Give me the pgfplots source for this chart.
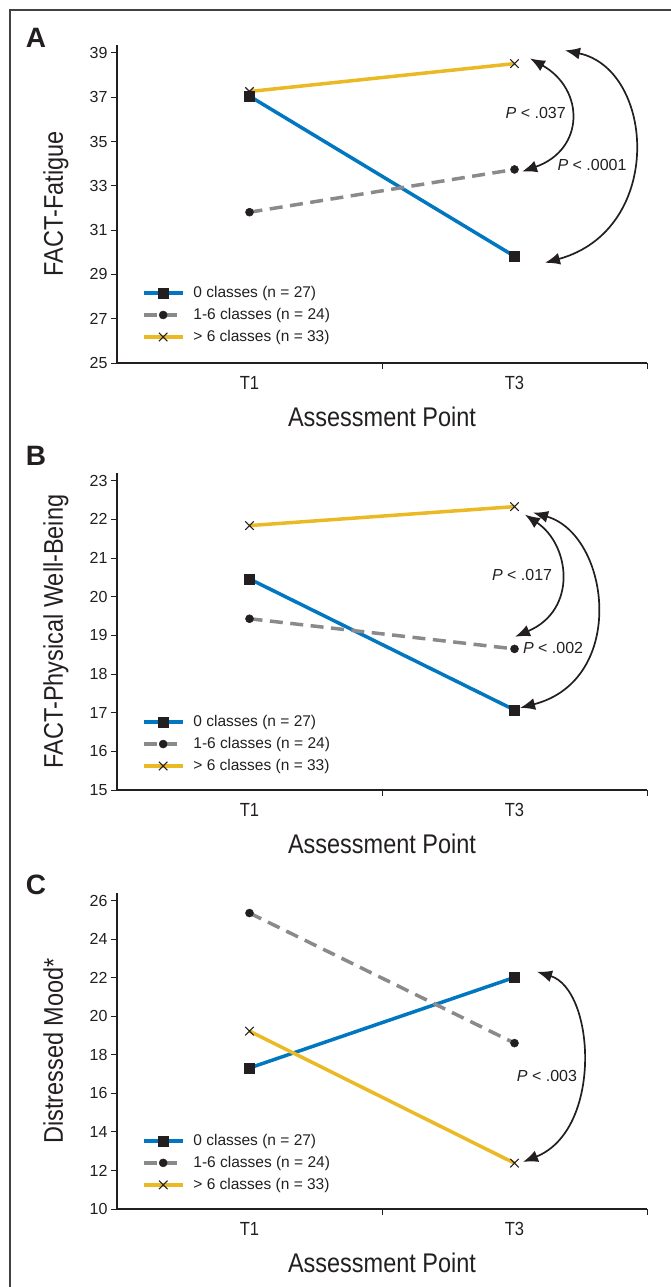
\documentclass[border=0pt]{standalone}
\usepackage{pgfplots}
\pgfplotsset{compat=1.18}
\usepackage{fontspec}
\setmainfont{Liberation Sans}
\newfontfamily\condfont[FakeStretch=0.87]{Liberation Sans}
\usetikzlibrary{arrows.meta}

\definecolor{cblue}{RGB}{0,119,192}
\definecolor{cgold}{RGB}{234,185,36}
\definecolor{cgray}{RGB}{138,138,140}
\definecolor{cdark}{RGB}{35,31,32}

\tikzset{
 parr/.style={cdark, line width=1.7pt, {Latex[length=15pt,width=12pt]}-{Latex[length=15pt,width=12pt]}},
 plab/.style={font=\fontsize{16}{18}\selectfont, text=cdark},
}

\pgfplotsset{
 panel/.style={
   scale only axis, width=530pt, xmin=0, xmax=4, clip=false,
   axis lines*=left,
   axis line style={line width=1.5pt, cdark},
   xtick={2,4}, xticklabels={},
   extra x ticks={1,3}, extra x tick labels={T1,T3},
   extra x tick style={major tick length=0pt,
     xticklabel style={font=\condfont\fontsize{19}{22}\selectfont, anchor=base, yshift=-26pt}},
   tick align=outside, major tick length=6pt,
   tick style={line width=1pt, cdark},
   every tick label/.append style={font=\fontsize{16}{18}\selectfont, text=cdark},
   /pgf/number format/assume math mode=true,
   xlabel={Assessment Point},
   xlabel style={at={(axis description cs:0.5,0)}, anchor=base, yshift=-63pt, font=\condfont\fontsize{27}{30}\selectfont, text=cdark},
   ylabel style={at={(axis description cs:-0.1019,0.5)}, anchor=base, font=\condfont\fontsize{27}{30}\selectfont, text=cdark},
   legend cell align=left,
   legend style={draw=none, fill=none, inner sep=0pt, outer sep=0pt, row sep=7pt, column sep=9pt,
     font=\fontsize{15.5}{18}\selectfont, text=cdark,
     nodes={inner sep=0pt, text height=12pt, text depth=3pt}, anchor=west},
   legend image code/.code={\draw[mark repeat=2,mark phase=2] plot coordinates {(0pt,0pt) (19.5pt,0pt) (39pt,0pt)};},
 },
 s0/.style={cblue, line width=3.5pt, mark=square*, mark options={solid, fill=cdark, draw=cdark, line width=0.5pt}, mark size=5pt},
 s1/.style={cgray, line width=3.5pt, dash pattern=on 13pt off 7.5pt, mark=*, mark options={solid, fill=cdark, draw=cdark, line width=0.5pt}, mark size=4pt},
 s2/.style={cgold, line width=3.5pt, mark=x, mark options={solid, draw=cdark, line width=1.1pt}, mark size=6pt},
}

\begin{document}
\begin{tikzpicture}
\path[use as bounding box] (0,0) rectangle (671pt,-1287pt);
\draw[line width=1.5pt, cdark!85] (10pt,-1290pt) -- (10pt,-10pt) -- (675pt,-10pt);

\node[font=\fontsize{28}{30}\selectfont\bfseries, text=cdark] at (36pt,-38pt) {A};
\node[font=\fontsize{28}{30}\selectfont\bfseries, text=cdark] at (36pt,-456pt) {B};
\node[font=\fontsize{28}{30}\selectfont\bfseries, text=cdark] at (36pt,-885pt) {C};

% Panel A
\begin{axis}[panel, at={(117pt,-363pt)}, anchor=south west, height=318pt,
  ymin=25, ymax=39.36, ytick={25,27,...,39}, ylabel={FACT-Fatigue},
  legend style={at={(axis description cs:0.047,0.151)}}]
\addplot[s0] coordinates {(1,37.05) (3,29.82)};
\addlegendentry{0 classes (n = 27)}
\addplot[s1] coordinates {(1,31.81) (3,33.74)};
\addlegendentry{1-6 classes (n = 24)}
\addplot[s2] coordinates {(1,37.26) (3,38.52)};
\addlegendentry{> 6 classes (n = 33)}
\draw[parr] (axis cs:3.117,38.756) .. controls (axis cs:3.532,37.353) and (axis cs:3.532,34.638) .. (axis cs:3.057,33.643);
\draw[parr] (axis cs:3.381,39.118) .. controls (axis cs:4.060,38.258) and (axis cs:4.136,31.018) .. (axis cs:3.230,29.525);
\node[plab] at (axis cs:3.16,36.31) {\textit{P} < .037};
\node[plab] at (axis cs:3.585,33.96) {\textit{P} < .0001};
\end{axis}

% Panel B
\begin{axis}[panel, at={(117pt,-790pt)}, anchor=south west, height=317pt,
  ymin=15, ymax=23.2, ytick={15,16,...,23}, ylabel={FACT-Physical Well-Being},
  legend style={at={(axis description cs:0.047,0.145)}}]
\addplot[s0] coordinates {(1,20.46) (3,17.07)};
\addlegendentry{0 classes (n = 27)}
\addplot[s1] coordinates {(1,19.43) (3,18.65)};
\addlegendentry{1-6 classes (n = 24)}
\addplot[s2] coordinates {(1,21.84) (3,22.33)};
\addlegendentry{> 6 classes (n = 33)}
\draw[parr] (axis cs:3.079,22.124) .. controls (axis cs:3.419,21.347) and (axis cs:3.479,19.663) .. (axis cs:3.004,18.964);
\draw[parr] (axis cs:3.140,22.176) .. controls (axis cs:3.721,21.606) and (axis cs:3.857,17.850) .. (axis cs:3.042,17.124);
\node[plab] at (axis cs:3.057,20.57) {\textit{P} < .017};
\node[plab] at (axis cs:3.291,18.679) {\textit{P} < .002};
\end{axis}

% Panel C
\begin{axis}[panel, at={(117pt,-1209pt)}, anchor=south west, height=316pt,
  ymin=10, ymax=26.4, ytick={10,12,...,26}, ylabel={Distressed Mood*},
  legend style={at={(axis description cs:0.047,0.146)}}]
\addplot[s0] coordinates {(1,17.32) (3,22.02)};
\addlegendentry{0 classes (n = 27)}
\addplot[s1] coordinates {(1,25.36) (3,18.61)};
\addlegendentry{1-6 classes (n = 24)}
\addplot[s2] coordinates {(1,19.23) (3,12.38)};
\addlegendentry{> 6 classes (n = 33)}
\draw[parr] (axis cs:3.170,22.312) .. controls (axis cs:3.608,21.377) and (axis cs:3.668,14.104) .. (axis cs:3.064,12.442);
\node[plab] at (axis cs:3.245,16.909) {\textit{P} < .003};
\end{axis}
\end{tikzpicture}
\end{document}
